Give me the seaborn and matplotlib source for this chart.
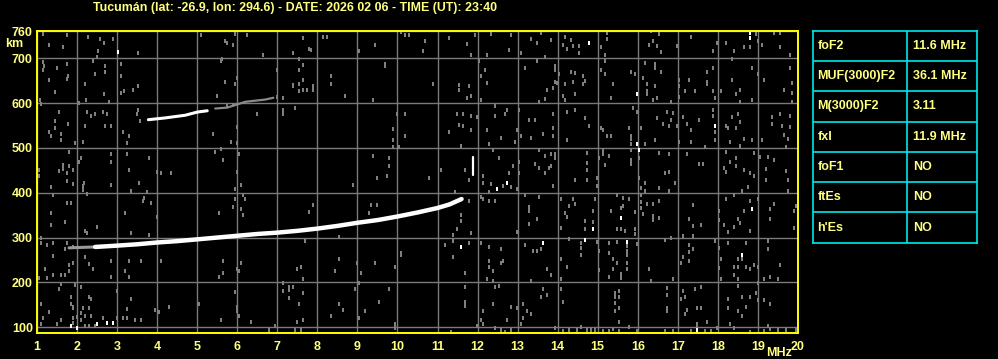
import matplotlib
matplotlib.use("Agg")
import matplotlib.pyplot as plt
import seaborn as sns
import pandas as pd

# ---------------- data ----------------
title = "Tucumán (lat: -26.9, lon: 294.6) - DATE: 2026 02 06 - TIME (UT): 23:40"

x_ticks = list(range(1, 21))
y_ticks = [100, 200, 300, 400, 500, 600, 700, 760]

# F2 ordinary trace (MHz, km)
trace_f = [2.45, 3.0, 3.5, 4.0, 4.5, 5.0, 5.5, 6.0, 6.5, 7.0, 7.5, 8.0, 8.5, 9.0, 9.5, 10.0, 10.5, 11.0, 11.3, 11.6]
trace_h = [279, 282, 285, 289, 292, 296, 300, 304, 308, 311, 315, 320, 326, 333, 339, 347, 356, 366, 374, 386]
# weak start of trace
trace_weak_f = [1.8, 2.1, 2.45]
trace_weak_h = [277, 278, 279]
# second hop trace
hop2_f = [3.78, 4.2, 4.7, 5.0, 5.25]
hop2_h = [563, 567, 573, 580, 583]
hop2_weak_f = [5.45, 5.75, 6.2, 6.7, 6.9]
hop2_weak_h = [588, 590, 603, 608, 612]
# extraordinary spur at fxI
fxi_f = [11.88, 11.88]
fxi_h = [440, 480]

# table
param_names = ["foF2", "MUF(3000)F2", "M(3000)F2", "fxI", "foF1", "ftEs", "h'Es"]
param_values = ["11.6 MHz", "36.1 MHz", "3.11", "11.9 MHz", "NO", "NO", "NO"]

# background noise specks (MHz, km)
noise_gray = [
    (1.14,755),(1.74,752),(2.28,748),(2.57,743),(2.89,743),(2.68,734),(1.29,730),(1.64,725),(2.53,716),(3.53,712),
    (2.49,703),(2.39,694),(1.14,692),(1.76,687),(1.49,678),(1.17,684),(2.70,684),(3.09,688),(1.14,675),(2.70,670),
    (2.44,664),(1.77,661),(1.74,653),(1.29,652),(3.09,661),(2.19,643),(3.53,638),(1.44,625),(3.17,627),(3.09,623),
    (3.39,630),(2.68,621),(1.07,607),(2.22,607),(2.79,602),(2.04,601),(1.09,598),(1.54,581),(2.24,581),(2.35,571),
    (2.45,576),(2.64,580),(2.74,576),(3.53,585),(3.49,576),(1.44,560),(1.77,553),(2.20,550),(2.69,550),(2.84,550),
    (3.57,560),(1.29,536),(1.44,544),(1.34,527),(1.59,532),(3.14,536),(3.29,527),(1.59,518),(2.14,514),(3.24,511),
    (1.94,510),(1.79,492),(2.09,478),(2.04,469),(2.84,487),(3.24,487),(3.79,478),(2.84,469),(1.64,463),(1.79,460),
    (1.64,454),(1.54,448),(1.89,451),(1.74,443),(1.04,450),(1.04,438),(1.74,426),(1.89,420),(3.29,451),(3.99,447),
    (4.09,443),(2.18,422),(2.14,416),(2.14,407),(2.24,398),(2.84,417),(1.34,413),(3.54,422),(3.34,404),(3.74,402),
    (1.39,395),(3.67,389),(3.64,382),(3.84,377),(1.74,377),(1.84,377),(1.34,355),(3.19,355),(3.99,346),(1.69,335),
    (1.34,328),(2.49,324),(2.19,315),(2.24,310),(3.34,310),(3.79,306),(1.09,300),(1.09,288),(1.39,288),(1.74,288),
    (1.24,283),(1.89,279),(1.69,274),(1.39,258),(2.19,257),(2.29,240),(2.39,230),(1.89,243),(1.79,239),(1.19,230),
    (1.79,225),(2.84,248),(3.29,248),(3.59,248),(4.09,248),(3.19,225),(1.04,210),(1.24,210),(1.39,216),(1.59,216),
    (1.69,216),(3.29,212),(2.84,212),(1.59,196),(1.94,194),(1.54,185),(1.84,167),(2.09,190),(2.29,167),(2.34,163),
    (2.99,181),(3.34,163),(1.09,151),(1.84,151),(1.89,146),(1.89,142),(2.14,143),(2.29,143),(3.24,141),(1.29,133),
    (3.94,139),(4.04,133),(2.09,132),(1.99,123),(2.19,124),(2.34,124),(2.64,121),(1.14,120),(1.59,115),(1.89,121),
    (2.99,121),(3.14,121),(3.24,120),(3.59,117),(3.44,117),(1.89,109),(2.09,115),(1.09,106),(1.49,106),(2.19,102),
    (2.29,102),(2.44,103),
    (5.09,752),(5.94,755),(6.24,752),(5.69,739),(5.74,734),(5.89,730),(6.64,707),(7.38,712),(5.61,699),(5.59,693),
    (6.99,675),(5.69,648),(5.94,643),(5.99,657),(5.49,617),(7.38,639),(7.14,612),(6.99,614),(5.90,596),(5.74,594),
    (7.14,585),(7.14,576),(6.49,576),(5.39,532),(5.99,547),(5.84,514),(5.99,510),(5.59,498),(5.44,492),(6.04,487),
    (5.64,474),(4.34,443),(5.99,447),(6.09,417),(5.94,408),(6.14,395),(6.19,385),(5.94,386),(5.89,368),(6.09,364),
    (6.14,350),(5.54,355),(5.64,248),(6.09,243),(5.99,230),(6.04,225),(5.64,221),(5.54,212),(7.14,199),(7.29,190),
    (7.29,182),(7.14,181),(7.29,166),(5.94,179),(4.29,146),(5.04,151),(5.99,146),(5.99,137),(6.04,124),(5.59,117),
    (6.34,111),(6.94,102),(6.79,93),
    (7.64,745),(8.14,748),(8.24,748),(7.79,721),(7.84,718),(7.39,712),(9.04,716),(9.44,730),(10.09,758),(10.19,752),
    (10.29,752),(7.54,699),(9.69,688),(9.69,684),(7.64,685),(7.54,675),(8.34,661),(7.64,652),(7.54,643),(7.39,640),
    (7.89,639),(8.34,642),(7.64,630),(7.74,630),(7.89,630),(7.54,626),(8.69,617),(9.39,608),(7.44,590),(9.99,576),
    (10.19,576),(9.89,542),(9.89,518),(9.89,501),(10.19,527),(10.04,501),(9.39,483),(9.79,477),(9.79,460),(9.49,434),
    (9.74,438),(8.89,417),(7.89,373),(7.79,358),(9.34,373),(9.49,373),(9.29,355),(7.69,292),(8.54,301),(10.09,266),
    (10.09,260),(8.54,252),(7.59,234),(7.49,230),(8.44,225),(8.99,243),(9.44,243),(9.09,221),(9.94,234),(7.39,190),
    (7.64,207),(8.94,185),(9.04,199),(9.79,185),(7.64,176),(9.54,157),(7.54,152),(8.54,152),(8.64,139),(9.19,136),
    (8.34,126),(9.04,121),(7.64,117),(7.49,112),(9.94,108),(9.94,99),(7.44,94),(7.59,94),
    (10.69,739),(10.64,716),(11.29,746),(11.74,733),(11.94,752),(12.34,755),(12.84,752),(13.34,743),(13.49,734),
    (13.59,757),(12.79,719),(13.09,712),(13.69,704),(11.84,707),(12.24,707),(12.04,693),(12.19,675),(12.09,661),
    (13.19,679),(13.49,693),(10.89,643),(11.54,640),(12.24,645),(11.79,639),(11.54,630),(11.84,617),(11.74,612),
    (12.09,608),(13.74,630),(13.54,603),(13.69,609),(12.44,594),(12.74,585),(13.04,585),(11.49,576),(11.64,576),
    (11.84,572),(11.99,568),(12.44,572),(12.69,576),(13.29,563),(13.44,563),(11.54,551),(11.64,548),(11.29,536),
    (11.84,541),(12.24,541),(12.99,541),(13.09,527),(13.34,523),(13.64,532),(12.59,523),(12.94,514),(11.59,505),
    (12.29,508),(13.54,496),(12.39,496),(13.69,483),(12.54,478),(12.89,460),(13.44,465),(13.04,469),(11.09,451),
    (11.69,451),(12.14,437),(10.79,432),(11.79,429),(12.79,443),(13.04,443),(13.54,456),(13.69,443),(13.79,456),
    (12.34,420),(12.14,422),(12.64,416),(12.84,413),(12.99,408),(12.29,402),(11.44,402),(11.79,382),(12.09,390),
    (12.14,385),(12.29,382),(12.44,382),(13.19,395),(13.54,390),(13.29,368),(13.29,359),(13.49,341),(13.29,331),
    (11.59,350),(11.59,337),(11.49,319),(11.84,310),(11.39,306),(12.99,313),(11.19,283),(11.39,292),(11.79,288),
    (12.09,288),(12.29,279),(12.59,274),(13.19,283),(13.39,270),(13.49,270),(13.59,274),(11.39,257),(12.29,248),
    (12.29,234),(12.39,225),(12.59,243),(12.64,248),(13.74,230),(11.69,221),(12.24,207),(13.34,203),(12.39,203),
    (11.69,190),(12.44,190),(12.54,193),(13.64,185),(13.59,167),(13.74,172),(12.39,152),(12.84,146),(12.99,142),
    (11.69,157),(11.69,148),(13.14,152),(13.34,130),(13.24,135),(13.14,121),(12.14,135),(12.74,117),(12.09,117),
    (13.09,108),(12.14,106),(12.44,99),(12.59,94),(12.69,90),(12.84,94),(11.34,90),(11.99,103),
    (13.84,740),(14.19,748),(14.34,742),(14.14,730),(14.39,728),(14.54,727),(15.09,725),(15.24,757),(15.24,743),
    (15.19,707),(16.34,760),(16.54,755),(16.39,739),(16.29,730),(16.49,728),(16.59,715),(16.99,728),(14.24,721),
    (14.54,712),(13.94,684),(13.94,675),(14.04,666),(14.34,670),(14.44,667),(14.64,661),(13.94,648),(13.99,645),
    (14.19,643),(14.39,648),(14.64,643),(14.69,649),(15.09,675),(15.19,666),(15.19,693),(15.39,643),(15.84,670),
    (15.94,666),(16.14,657),(16.19,690),(16.24,643),(16.24,626),(16.24,620),(16.44,688),(16.44,679),(16.44,639),
    (16.59,670),(13.89,634),(14.14,617),(14.19,608),(14.44,621),(15.34,612),(16.39,608),(16.49,612),(16.84,603),
    (13.89,576),(14.24,581),(14.44,585),(14.69,567),(14.79,550),(13.89,545),(13.89,527),(14.24,518),(15.09,545),
    (15.14,541),(15.24,527),(15.34,527),(15.79,545),(15.84,526),(15.84,520),(15.89,590),(15.99,581),(16.09,545),
    (16.49,567),(16.64,554),(16.74,581),(16.79,550),(16.89,578),(16.99,548),(16.84,562),(16.44,518),(15.84,508),
    (16.19,508),(15.84,496),(13.84,487),(13.94,486),(13.94,478),(13.84,460),(14.74,489),(14.74,466),(14.74,451),
    (15.04,478),(15.14,496),(15.14,487),(15.29,483),(15.19,463),(15.84,474),(15.84,465),(16.04,478),(16.54,489),
    (16.79,487),(16.69,443),(16.79,447),(16.94,422),(14.99,434),(14.99,416),(14.44,429),(14.74,429),(13.89,414),
    (16.04,434),(16.09,410),(16.19,422),(16.19,404),(16.54,410),(16.79,404),(14.09,385),(14.29,371),(14.39,386),
    (14.44,376),(14.19,355),(14.24,347),(14.09,322),(14.69,337),(14.69,318),(14.89,359),(14.89,335),(14.94,385),
    (15.34,359),(15.49,396),(15.64,389),(15.64,371),(15.59,367),(15.49,318),(15.59,318),(15.69,315),(15.79,386),
    (15.94,358),(15.94,319),(15.94,307),(16.09,395),(16.09,380),(16.09,367),(16.14,352),(16.24,376),(16.39,376),
    (16.39,349),(16.39,340),(16.54,382),(16.54,344),(15.74,282),(15.74,270),(15.74,261),(15.74,243),(15.74,230),
    (15.04,270),(15.29,265),(15.39,252),(15.49,243),(15.39,230),(15.59,219),(15.59,210),(15.29,212),(15.04,227),
    (14.09,252),(14.24,234),(13.84,216),(14.09,207),(14.59,288),(14.59,277),(14.59,261),(14.29,297),(14.99,289),
    (15.29,288),(15.49,291),(15.99,285),(16.29,230),(16.34,203),(16.69,294),(16.84,300),(16.89,207),(14.09,185),
    (14.14,157),(15.44,176),(15.44,167),(15.54,181),(15.54,167),(15.44,154),(15.54,143),(15.44,135),(15.54,112),
    (16.74,187),(16.74,172),(16.74,143),(16.74,135),(13.94,99),(14.14,91),(14.29,94),(14.49,94),(14.59,100),
    (14.74,94),(14.84,94),(14.94,94),(15.14,91),(15.29,91),(15.39,96),(15.54,91),(15.79,100),(15.99,91),(16.69,91),
    (16.89,91),
    (17.34,748),(17.89,716),(17.99,734),(18.19,734),(18.39,716),(18.64,725),(18.79,725),(18.94,755),(18.99,739),
    (19.09,730),(19.39,757),(19.54,757),(19.54,725),(19.79,707),(18.34,699),(17.89,679),(17.74,670),(17.74,648),
    (17.74,642),(17.29,652),(17.04,652),(17.04,639),(17.19,626),(17.44,626),(17.89,626),(17.04,614),(17.94,612),
    (18.09,627),(18.34,652),(18.44,621),(18.54,630),(18.84,679),(18.99,664),(19.14,652),(19.79,679),(19.84,645),
    (19.64,630),(19.84,623),(18.84,608),(18.54,603),(19.84,603),(17.14,569),(17.24,554),(17.34,541),(17.54,563),
    (17.89,585),(17.89,572),(17.94,536),(17.94,518),(17.04,514),(17.34,514),(18.19,550),(18.24,545),(18.34,568),
    (18.49,576),(18.54,559),(18.44,545),(18.64,520),(18.29,514),(18.54,505),(18.84,518),(19.09,518),(19.34,568),
    (19.34,554),(19.54,576),(19.59,550),(19.64,530),(19.79,547),(19.79,572),(19.74,520),(17.24,487),(17.54,465),
    (17.64,465),(17.69,501),(18.19,492),(18.14,456),(18.19,447),(18.29,469),(18.44,478),(18.44,460),(18.64,451),
    (18.79,443),(18.89,438),(18.74,413),(18.59,404),(18.89,489),(19.04,480),(19.24,480),(19.39,474),(19.19,453),
    (19.19,429),(19.69,448),(19.74,429),(19.74,404),(19.69,501),(17.39,373),(17.29,341),(17.39,326),(17.59,329),
    (17.14,304),(17.39,304),(18.04,359),(18.04,340),(18.14,329),(18.24,312),(18.39,324),(18.49,341),(18.54,332),
    (18.39,395),(18.19,386),(18.64,359),(18.79,382),(18.79,315),(18.99,386),(19.29,364),(19.39,374),(19.29,341),
    (19.89,322),(19.89,359),(19.94,371),(17.29,283),(17.39,274),(17.29,267),(17.29,248),(17.14,257),(17.09,243),
    (17.94,292),(18.04,277),(18.24,288),(18.69,288),(18.49,252),(18.59,252),(18.39,234),(18.49,234),(18.69,234),
    (18.79,230),(18.89,239),(18.99,234),(18.04,233),(18.09,252),(18.09,207),(18.39,216),(18.49,207),(19.24,292),
    (19.24,274),(19.54,239),(19.49,207),(19.14,207),(19.29,212),(19.99,292),(19.99,234),(17.14,181),(17.09,163),
    (17.19,167),(17.44,185),(17.59,190),(17.24,139),(17.19,130),(17.49,143),(17.59,143),(17.74,112),(17.49,108),
    (17.49,102),(18.24,163),(18.24,143),(18.49,191),(18.49,135),(18.59,124),(18.69,146),(18.59,167),(18.79,167),
    (18.94,176),(18.99,199),(18.99,161),(19.14,161),(19.29,152),(18.29,106),(18.39,99),(17.34,91),(17.69,91),
    (17.84,91),(17.99,99),(18.79,90),(19.14,91),(19.29,96),(19.49,94),(19.69,93),(19.94,94),(19.24,103),
]
noise_white = [
    (3.03,715),(1.84,103),(1.99,99),(2.49,106),(2.74,109),(2.89,109),(12.49,408),(12.74,422),(11.59,279),
    (13.64,288),(14.79,734),(15.99,620),(15.99,508),(16.04,496),(15.59,344),(14.89,318),(14.69,295),(15.74,291),
    (17.94,550),(18.84,364),(18.59,261),(18.79,757),(18.79,745),(17.49,94),
]

# ---------------- style ----------------
BG = "#000000"
TXT = "#ffff80"
AXC = "#ffff00"
GRID = "#7a7a7a"
CYAN = "#00e8e8"

sns.set_theme(style="dark")
plt.rcParams["font.family"] = ["Liberation Sans", "DejaVu Sans"]
plt.rcParams["font.weight"] = "bold"

fig = plt.figure(figsize=(9.98, 3.59), dpi=100, facecolor=BG)
W, H = 998, 359
L, R, T, B = 37, 798, 31, 333
ax = fig.add_axes([L / W, 1 - B / H, (R - L) / W, (B - T) / H])
ax.set_facecolor(BG)

gray_df = pd.DataFrame(noise_gray, columns=["f", "h"])
white_df = pd.DataFrame(noise_white, columns=["f", "h"])
rect = [(-0.4, -0.5), (0.4, -0.5), (0.4, 0.5), (-0.4, 0.5)]
sns.scatterplot(data=gray_df, x="f", y="h", ax=ax, color="#808080", marker=rect, s=5.5,
                linewidth=0, zorder=2, legend=False)
sns.scatterplot(data=white_df, x="f", y="h", ax=ax, color="#ffffff", marker=rect, s=6,
                linewidth=0, zorder=3, legend=False)

line_kw = dict(ax=ax, sort=False, estimator=None, errorbar=None)
sns.lineplot(x=trace_weak_f, y=trace_weak_h, color="#9a9a9a", linewidth=2.2, zorder=3, **line_kw)
sns.lineplot(x=trace_f, y=trace_h, color="#ffffff", linewidth=3.2, zorder=4, **line_kw)
sns.lineplot(x=hop2_weak_f, y=hop2_weak_h, color="#8a8a8a", linewidth=1.6, zorder=3, **line_kw)
sns.lineplot(x=hop2_f, y=hop2_h, color="#ffffff", linewidth=2.2, zorder=4, **line_kw)
sns.lineplot(x=fxi_f, y=fxi_h, color="#ffffff", linewidth=1.6, zorder=5, **line_kw)

ax.set_xlim(1, 20)
ax.set_ylim(87, 761)
ax.set_xticks(x_ticks)
ax.set_xticklabels([str(v) for v in x_ticks])
ax.set_yticks(y_ticks)
ax.set_yticklabels([str(v) for v in y_ticks])
ax.set_xlabel("")
ax.set_ylabel("")
ax.grid(True, color=GRID, linewidth=1.0)
ax.set_axisbelow(True)
ax.tick_params(axis="both", length=0, colors=TXT, labelsize=9)
ax.tick_params(axis="x", pad=6)
ax.tick_params(axis="y", pad=3)
for lab in ax.get_xticklabels() + ax.get_yticklabels():
    lab.set_fontweight("bold")
    lab.set_color(TXT)
for sp in ax.spines.values():
    sp.set_visible(True)
    sp.set_color(AXC)
    sp.set_linewidth(1.4)
    sp.set_zorder(6)

fig.text(295 / W, 1 - 7.5 / H, title, color=TXT, fontsize=8.9, fontweight="bold",
         ha="center", va="center")
fig.text(14 / W, 1 - 44 / H, "km", color=TXT, fontsize=9, fontweight="bold", ha="center", va="center")
fig.text(779 / W, 1 - 352.5 / H, "MHz", color=TXT, fontsize=9, fontweight="bold", ha="center", va="center")

# ---------------- parameter table ----------------
tL, tR, tT, tB = 812.7, 977.3, 30.7, 242.7
tax = fig.add_axes([tL / W, 1 - tB / H, (tR - tL) / W, (tB - tT) / H])
tax.set_facecolor(BG)
n = len(param_names)
tax.set_xlim(0, 1)
tax.set_ylim(n, 0)
tax.set_xticks([])
tax.set_yticks([])
for sp in tax.spines.values():
    sp.set_color(CYAN)
    sp.set_linewidth(1.2)
split = (907.3 - tL) / (tR - tL)
tax.axvline(split, color=CYAN, linewidth=1.2)
for i in range(1, n):
    tax.axhline(i, color=CYAN, linewidth=1.2)
for i, (name, val) in enumerate(zip(param_names, param_values)):
    tax.text(0.028, i + 0.5, name, color=TXT, fontsize=9, fontweight="bold", ha="left", va="center")
    tax.text(split + 0.033, i + 0.5, val, color=TXT, fontsize=9, fontweight="bold", ha="left", va="center")

fig.savefig("out.png", dpi=100, facecolor=BG)
